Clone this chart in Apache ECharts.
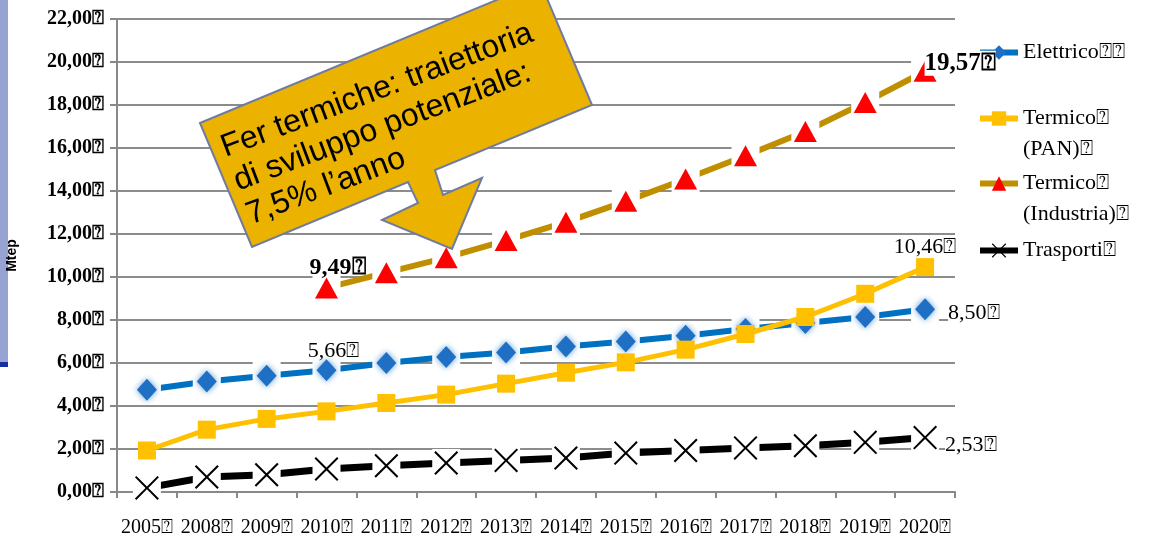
<!DOCTYPE html>
<html>
<head>
<meta charset="utf-8">
<script src="https://cdn.jsdelivr.net/npm/echarts@6.0.0/dist/echarts.min.js"></script>
<style>
html, body { margin: 0; padding: 0; background: #fff; }
#chart1 { width: 1152px; height: 537px; }
</style>
</head>
<body>
<div id="chart1"></div>
<script>
// missing glyph box, as it shows in the original slide
var BOX = '\u2370'

var years = ['2005', '2008', '2009', '2010', '2011', '2012', '2013', '2014', '2015', '2016', '2017', '2018', '2019', '2020']
var elettrico = [4.76, 5.14, 5.41, 5.66, 6.00, 6.28, 6.49, 6.77, 7.00, 7.27, 7.58, 7.86, 8.14, 8.50]
var termicoPan = [1.93, 2.90, 3.40, 3.75, 4.14, 4.53, 5.04, 5.55, 6.03, 6.62, 7.35, 8.14, 9.22, 10.46]
var termicoInd = [null, null, null, 9.49, 10.20, 10.90, 11.70, 12.55, 13.52, 14.56, 15.64, 16.77, 18.12, 19.57]
var trasporti = [0.19, 0.70, 0.80, 1.07, 1.22, 1.35, 1.47, 1.58, 1.81, 1.93, 2.05, 2.15, 2.31, 2.53]

// first empty line keeps the first text line level with the icon
var legendNames = {
  'Elettrico': 'Elettrico' + BOX + BOX,
  'Termico (PAN)': '\nTermico' + BOX + '\n(PAN)' + BOX,
  'Termico (Industria)': '\nTermico' + BOX + '\n(Industria)' + BOX,
  'Trasporti': 'Trasporti' + BOX
}

var xPath = 'path://M0,1.2 L1.2,0 L10,8.8 L18.8,0 L20,1.2 L11.2,10 L20,18.8 L18.8,20 L10,11.2 L1.2,20 L0,18.8 L8.8,10 Z'
var serif = 'Liberation Serif'

function fmt(v) {
  return Number(v).toFixed(2).replace('.', ',') + BOX
}

// put a label on some points only
function withLabels(arr, labels) {
  return arr.map(function (v, i) {
    if (labels[i] && v != null) return { value: v, label: labels[i] }
    return v
  })
}

function lab(extra) {
  var l = {
    show: true,
    formatter: function (p) { return fmt(p.value) },
    fontFamily: serif,
    fontSize: 22,
    color: '#000',
    backgroundColor: '#fff'
  }
  for (var k in extra) l[k] = extra[k]
  return l
}

var lblElettrico = {}
lblElettrico[3] = lab({ position: 'top', distance: 0, offset: [7, 3], backgroundColor: 'transparent' })
lblElettrico[13] = lab({ position: 'right', distance: 13, offset: [0, 4] })
var lblPan = {}
lblPan[13] = lab({ position: 'top', distance: 1, offset: [0, 1] })
var lblInd = {}
lblInd[3] = lab({ position: 'top', distance: 1, offset: [11, 3], fontWeight: 'bold', fontSize: 24, backgroundColor: 'transparent' })
lblInd[13] = lab({ position: 'right', distance: 0, offset: [-12, -8], fontWeight: 'bold', fontSize: 25 })
var lblTra = {}
lblTra[13] = lab({ position: 'right', distance: 8, offset: [0, 8] })

function halo(data) {
  return {
    type: 'line', data: data, z: 3, silent: true,
    symbol: 'rect', symbolSize: 28, showAllSymbol: true,
    itemStyle: { color: '#fff' },
    lineStyle: { opacity: 0 }
  }
}

function legendAt(name, top) {
  return {
    data: [name], orient: 'vertical', left: 977, top: top, padding: 0,
    itemWidth: 38, itemHeight: 18, selectedMode: false,
    lineStyle: { width: 6 },
    formatter: function (n) { return legendNames[n] },
    textStyle: { fontFamily: serif, fontSize: 22, lineHeight: 31, color: '#000' }
  }
}

chart1 = {
  animation: false,
  backgroundColor: '#fff',
  grid: { left: 117, right: 197, top: 19, bottom: 45, outerBoundsMode: 'none' },
  legend: [
    legendAt('Elettrico', 37),
    legendAt('Termico (PAN)', 72),
    legendAt('Termico (Industria)', 137),
    legendAt('Trasporti', 235)
  ],
  xAxis: {
    type: 'category',
    data: years,
    boundaryGap: true,
    axisLine: { lineStyle: { color: '#888', width: 2 } },
    axisTick: { show: true, length: 6, interval: 0, lineStyle: { color: '#888', width: 2 } },
    axisLabel: {
      interval: 0, margin: 26, color: '#000', fontFamily: serif, fontSize: 20,
      formatter: function (v) { return v + BOX }
    }
  },
  yAxis: {
    type: 'value',
    min: 0, max: 22, interval: 2,
    name: 'Mtep',
    nameLocation: 'middle',
    nameRotate: 90,
    nameGap: 98,
    nameTextStyle: { fontFamily: 'Liberation Sans', fontWeight: 'bold', fontSize: 14, color: '#000' },
    axisLine: { show: true, lineStyle: { color: '#888', width: 2 } },
    axisTick: { show: true, length: 7, lineStyle: { color: '#888', width: 2 } },
    splitLine: { lineStyle: { color: '#8c8c8c', width: 2 } },
    axisLabel: {
      margin: 13, color: '#000', fontFamily: serif, fontSize: 20, fontWeight: 'bold',
      formatter: function (v) { return fmt(v) }
    }
  },
  series: [
    {
      name: 'Elettrico', type: 'line', data: elettrico, z: 2,
      symbol: 'diamond', symbolSize: [20, 22], showAllSymbol: true,
      itemStyle: { color: '#1f6fc5' },
      lineStyle: { color: '#0070c0', width: 6 }
    },
    {
      name: 'Termico (Industria)', type: 'line', data: termicoInd, z: 2,
      symbol: 'triangle', symbolSize: [23, 21], showAllSymbol: true,
      itemStyle: { color: '#ff0000' },
      lineStyle: { color: '#bf8f00', width: 6 }
    },
    {
      name: 'Trasporti', type: 'line', data: trasporti, z: 2,
      symbol: xPath, symbolSize: 24, showAllSymbol: true,
      itemStyle: { color: '#000' },
      lineStyle: { color: '#000', width: 7 }
    },
    // white halos round the markers, they break lines and gridlines
    halo(elettrico),
    halo(termicoInd),
    halo(trasporti),
    {
      name: '_m1', type: 'line', data: withLabels(elettrico, lblElettrico), z: 4,
      symbol: 'diamond', symbolSize: [20, 22], showAllSymbol: true,
      itemStyle: { color: '#1f6fc5', shadowBlur: 6, shadowColor: '#5b9bd5' },
      lineStyle: { opacity: 0 }
    },
    {
      name: '_m2', type: 'line', data: withLabels(termicoInd, lblInd), z: 4,
      symbol: 'triangle', symbolSize: [23, 21], showAllSymbol: true,
      itemStyle: { color: '#ff0000' },
      lineStyle: { opacity: 0 }
    },
    {
      name: '_m3', type: 'line', data: withLabels(trasporti, lblTra), z: 4,
      symbol: xPath, symbolSize: 24, showAllSymbol: true,
      itemStyle: { color: '#000' },
      lineStyle: { opacity: 0 }
    },
    {
      name: 'Termico (PAN)', type: 'line', data: withLabels(termicoPan, lblPan), z: 5,
      symbol: 'rect', symbolSize: 18, showAllSymbol: true,
      itemStyle: { color: '#ffc000' },
      lineStyle: { color: '#ffc000', width: 5 }
    }
  ],
  graphic: [
    { type: 'rect', shape: { x: 0, y: 0, width: 8, height: 362 }, style: { fill: '#97a3d3' }, z: 0 },
    { type: 'rect', shape: { x: 0, y: 362, width: 8, height: 5 }, style: { fill: '#1430a0' }, z: 0 },
    {
      type: 'polygon', z: 100,
      shape: { points: [[200, 123], [540, -18], [592, 105], [435, 170], [443, 195], [482, 178], [452, 249], [382, 220], [418, 203], [408, 182], [252, 247]] },
      style: { fill: '#ebb300', stroke: '#6f7ba0', lineWidth: 2 }
    },
    {
      type: 'text', z: 101, x: 216, y: 132, rotation: 0.36,
      style: {
        text: 'Fer termiche: traiettoria\ndi sviluppo potenziale:\n7,5% l\u2019anno',
        font: '32px "Liberation Sans"', lineHeight: 36, fill: '#000',
        align: 'left', verticalAlign: 'top'
      }
    }
  ]
}
echarts.init(document.getElementById('chart1')).setOption(chart1)
</script>
</body>
</html>
